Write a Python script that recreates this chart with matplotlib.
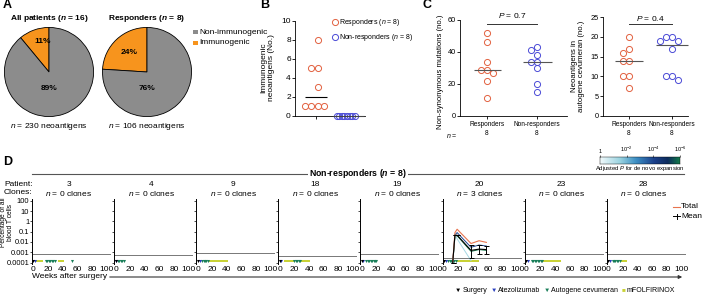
import numpy as np
import matplotlib
matplotlib.use('Agg')
import matplotlib.pyplot as plt
from matplotlib.patches import Rectangle, FancyArrowPatch
from matplotlib.lines import Line2D
from matplotlib.colors import LinearSegmentedColormap

plt.rcParams['font.family'] = ['Liberation Sans', 'DejaVu Sans']
plt.rcParams['mathtext.fontset'] = 'custom'
plt.rcParams['mathtext.rm'] = 'Liberation Sans'
plt.rcParams['mathtext.it'] = 'Liberation Sans:italic'
plt.rcParams['mathtext.bf'] = 'Liberation Sans:bold'
plt.rcParams['mathtext.bfit'] = 'Liberation Sans:italic:bold'
plt.rcParams['axes.linewidth'] = 0.6
plt.rcParams['xtick.major.width'] = 0.6
plt.rcParams['ytick.major.width'] = 0.6
plt.rcParams['xtick.major.size'] = 2
plt.rcParams['ytick.major.size'] = 2

# ---------------- data ----------------
pie_titles = ['All patients ($\\mathbfit{n}$ = 16)', 'Responders ($\\mathbfit{n}$ = 8)']
pie_footers = ['$n$ = 230 neoantigens', '$n$ = 106 neoantigens']
pie_immunogenic_pct = [11, 24]
pie_categories = ['Non-immunogenic', 'Immunogenic']

groups = ['Responders', 'Non-responders']
group_n = [8, 8]
b_resp = [8, 5, 5, 3, 1, 1, 1, 1]
b_nonresp = [0, 0, 0, 0, 0, 0, 0, 0]

c1_resp = [52, 46, 34, 29, 29, 27, 22, 11]
c1_nonresp = [43, 41, 38, 34, 34, 30, 20, 15]
c1_pval = '0.7'
c2_resp = [20, 17, 16, 14, 14, 10, 10, 7]
c2_nonresp = [20, 20, 19, 19, 17, 10, 10, 9]
c2_pval = '0.4'

patients = ['3', '4', '9', '18', '19', '20', '23', '28']
n_clones = [0, 0, 0, 0, 0, 3, 0, 0]
lod = [7e-4, 5.5e-4, 9e-4, 4e-4, 6e-4, 3e-4, 6e-4, 6e-4]
surgery_week = [0, 0, 0, 0, 0, 0, 0, 0]
atezo_week = [2, 1, 3, 2, 2, 3, 3, 3]
vax_weeks = [
    [17, 19, 21, 23, 25, 27, 29, 53],
    [3, 5, 7, 9, 11],
    [6, 8, 10, 12, 14],
    [20, 22, 24, 26, 28],
    [6, 8, 10, 12, 14, 16, 18, 20],
    [6, 8, 10, 12, 14, 16],
    [8, 10, 12, 14, 16, 18, 20, 22],
    [6, 8, 10, 12, 14, 16],
]
chemo_periods = [
    [(4, 13), (33, 42)],
    [],
    [(14, 42)],
    [(6, 20), (29, 42)],
    [],
    [(16, 48)],
    [(22, 48)],
    [(17, 26)],
]

p20_weeks = [12, 15, 18, 37, 48, 58]
p20_total = [1.2e-4, 0.08, 0.17, 0.007, 0.013, 0.009]
p20_clones = [
    [1.0e-4, 0.05, 0.08, 0.003, 0.005, 0.004],
    [1.0e-4, 0.03, 0.04, 0.0012, 0.0018, 0.0015],
    [1.0e-4, 0.06, 0.02, 1.5e-4, np.nan, np.nan],
]
p20_clone_padj = [1e-4, 1e-6, 5e-2]
p20_mean = [1.0e-4, 0.045, 0.045, 0.0015, 0.002, 0.0018]
p20_mean_lo = [1.0e-4, 0.045, 0.045, 3e-4, 6e-4, 6e-4]
p20_mean_hi = [1.0e-4, 0.045, 0.045, 0.005, 0.005, 0.004]

treatments = ['Surgery', 'Atezolizumab', 'Autogene cevumeran', 'mFOLFIRINOX']

# ---------------- style ----------------
W, H = 708, 297
fig = plt.figure(figsize=(W / 100, H / 100), dpi=100)

GRAY = '#8c8c8c'
ORANGE = '#f7941d'
RED = '#e2603f'
BLUE = '#4a4ad6'
TOTAL_C = '#e8744f'
YEL = '#c9d236'
VGREEN = '#1a7f5a'
ABLUE = '#2a3fbf'


def add_ax(x0, y0, x1, y1):
    return fig.add_axes([x0 / W, 1 - y1 / H, (x1 - x0) / W, (y1 - y0) / H])


def ftext(x, y, s, **kw):
    kw.setdefault('ha', 'center')
    kw.setdefault('va', 'center')
    return fig.text(x / W, 1 - y / H, s, **kw)


def fline(x0, y0, x1, y1, **kw):
    fig.add_artist(Line2D([x0 / W, x1 / W], [1 - y0 / H, 1 - y1 / H],
                          transform=fig.transFigure, **kw))


def swarm(vals, ypx, xpx, dmin):
    placed, offs = [], []
    cands = [0.0]
    for i in range(1, 30):
        cands += [-i * dmin, i * dmin]
    for v in vals:
        y = v * ypx
        for c in cands:
            if all((c - px) ** 2 + (y - py) ** 2 >= (0.98 * dmin) ** 2 for px, py in placed):
                break
        placed.append((c, y))
        offs.append(c / xpx)
    return np.array(offs)


# panel letters
ftext(7, 5, 'A', fontsize=9, fontweight='bold')
ftext(265, 5, 'B', fontsize=9, fontweight='bold')
ftext(427, 5, 'C', fontsize=9, fontweight='bold')
ftext(8, 162, 'D', fontsize=9, fontweight='bold')

# ---------------- A: pies ----------------
pie_cx = [49, 147]
label_pos = [[(-0.14, 0.69), (0.0, -0.38)], [(-0.41, 0.44), (0.0, -0.38)]]
for i in range(2):
    ax = add_ax(pie_cx[i] - 45, 27, pie_cx[i] + 45, 117)
    imm = pie_immunogenic_pct[i]
    ax.pie([imm, 100 - imm], colors=[ORANGE, GRAY], startangle=90, counterclock=True,
           radius=1, wedgeprops=dict(edgecolor='black', linewidth=0.6))
    ax.set_xlim(-1.01, 1.01)
    ax.set_ylim(-1.01, 1.01)
    ax.set_aspect('equal')
    ax.axis('off')
    (lx1, ly1), (lx2, ly2) = label_pos[i]
    ax.text(lx1, ly1, f'{imm}%', ha='center', va='center', fontsize=6, fontweight='bold')
    ax.text(lx2, ly2, f'{100 - imm}%', ha='center', va='center', fontsize=6, fontweight='bold')
    ftext(pie_cx[i], 19, pie_titles[i], fontsize=6, fontweight='bold')
    ftext(pie_cx[i], 126, pie_footers[i], fontsize=6)

for j, (lab, col) in enumerate(zip(pie_categories, [GRAY, ORANGE])):
    yy = 32 + j * 11
    fig.add_artist(Rectangle((193 / W, 1 - (yy + 2.3) / H), 4.6 / W, 4.6 / H,
                             transform=fig.transFigure, facecolor=col, edgecolor='none'))
    ftext(199.5, yy, lab, fontsize=6, ha='left')

# ---------------- B ----------------
axB = add_ax(295, 20.7, 365, 115.7)
bx_ppu = 31.0
by_ppu = 95.0 / 10
axB.set_xlim(1 - 21 / bx_ppu, 2 + 18 / bx_ppu)
axB.set_ylim(0, 10)
off_r = swarm(b_resp, by_ppu, bx_ppu, 6.2)
off_n = swarm(b_nonresp, by_ppu, bx_ppu, 2.6)
axB.plot(1.05 + off_r, b_resp, 'o', mfc='none', mec=RED, ms=4.4, mew=0.7, clip_on=False, zorder=3)
axB.plot(2.0 + off_n, b_nonresp, 'o', mfc='none', mec=BLUE, ms=4.4, mew=0.7, clip_on=False, zorder=3)
axB.hlines(np.median(b_resp), 1 - 0.36, 1 + 0.34, color='black', lw=0.8)
axB.hlines(np.median(b_nonresp), 2 - 0.45, 2 + 0.55, color='#444', lw=0.8, clip_on=False, zorder=4)
axB.set_xticks([1])
axB.set_xticklabels([''])
axB.set_yticks(range(0, 11, 2))
axB.tick_params(labelsize=6, pad=1)
for s in ['top', 'right']:
    axB.spines[s].set_visible(False)
ftext(268, 68, 'Immunogenic\nneoantigens (No.)', fontsize=6, rotation=90, linespacing=1.1)
leg_h = [Line2D([], [], ls='none', marker='o', mfc='none', mec=RED, ms=4.4, mew=0.7),
         Line2D([], [], ls='none', marker='o', mfc='none', mec=BLUE, ms=4.4, mew=0.7)]
fig.legend(leg_h, [f'{groups[0]} ($n$ = {group_n[0]})', f'{groups[1]} ($n$ = {group_n[1]})'],
           loc='upper left', bbox_to_anchor=(332 / W, 1 - 17.5 / H), frameon=False,
           fontsize=5, handlelength=0.8, handletextpad=0.15, labelspacing=0.55,
           borderaxespad=0, borderpad=0)


# ---------------- C ----------------
def dot_panel(box, ylim, yticks, resp, nonresp, pval, x_left, x_right, xppu, half_r, half_n,
              ylab, ylab_x, ylab_y, bracket_y, p_y):
    ax = add_ax(*box)
    yppu = (box[3] - box[1]) / (ylim[1] - ylim[0])
    ax.set_xlim(x_left, x_right)
    ax.set_ylim(*ylim)
    o_r = swarm(resp, yppu, xppu, 6.2)
    o_n = swarm(nonresp, yppu, xppu, 6.2)
    ax.plot(1 + o_r, resp, 'o', mfc='none', mec=RED, ms=4.4, mew=0.7, clip_on=False, zorder=3)
    ax.plot(2 + o_n, nonresp, 'o', mfc='none', mec=BLUE, ms=4.4, mew=0.7, clip_on=False, zorder=3)
    ax.hlines(np.median(resp), 1 - half_r, 1 + half_r, color='#555', lw=0.8, zorder=4)
    ax.hlines(np.median(nonresp), 2 - half_n, 2 + half_n, color='#555', lw=0.8, zorder=4, clip_on=False)
    ax.set_yticks(yticks)
    ax.set_xticks([1, 2])
    ax.set_xticklabels([f'{g}\n{n}' for g, n in zip(groups, group_n)], fontsize=4.7,
                       linespacing=1.45)
    ax.tick_params(axis='y', labelsize=5.3, pad=1)
    ax.tick_params(axis='x', pad=1.5)
    for s in ['top', 'right']:
        ax.spines[s].set_visible(False)
    ax.plot([1, 2], [bracket_y, bracket_y], color='#333', lw=0.7, clip_on=False)
    ax.text(1.5, p_y, f'$P$ = {pval}', ha='center', va='center', fontsize=6, clip_on=False)
    ftext(ylab_x, ylab_y, ylab, fontsize=5.6, rotation=90, linespacing=1.1)
    return ax


dot_panel((460, 20, 567, 116), (0, 60), [0, 20, 40, 60], c1_resp, c1_nonresp, c1_pval,
          1 - 27 / 50, 2 + 30 / 50, 50.0, 0.27, 0.29,
          'Non-synonymous mutations (no.)', 441, 72, 57.5, 62.5)
ftext(452, 136.5, '$n$ =', fontsize=5)
dot_panel((603, 17.3, 688, 115.7), (0, 25), [0, 5, 10, 15, 20, 25], c2_resp, c2_nonresp, c2_pval,
          1 - 26 / 43, 2 + 16 / 43, 43.0, 0.33, 0.37,
          'Neoantigens in\nautogene cevumeran (no.)', 578, 66, 23.3, 24.8)

# ---------------- D ----------------
cmap = LinearSegmentedColormap.from_list(
    'padj', [(0.0, '#f2fafc'), (0.25, '#9ad3e0'), (0.45, '#3d8fc4'),
             (0.68, '#1b3f8a'), (0.85, '#0d2c5c'), (1.0, '#137a4a')])


def padj_color(p):
    return cmap(min(max(-np.log10(p) / 6.0, 0), 1))


# colorbar
cax = add_ax(600, 156.5, 680, 164)
cax.imshow(np.linspace(0, 1, 256)[None, :], aspect='auto', cmap=cmap, extent=[0, 6, 0, 1])
cax.set_yticks([])
cax.set_xticks([0, 2, 4, 6])
cax.set_xticklabels(['1', '10$^{-2}$', '10$^{-4}$', '10$^{-6}$'], fontsize=4)
cax.xaxis.set_ticks_position('top')
cax.tick_params(axis='x', length=1.5, pad=0.5, width=0.4)
for s in cax.spines.values():
    s.set_linewidth(0.3)
ftext(640, 168.5, 'Adjusted $P$ for de novo expansion', fontsize=4.2)

# header
fline(32, 174, 684, 174, color='#555', lw=0.8)
ftext(358, 174, 'Non-responders ($\\mathbfit{n}$ = 8)', fontsize=6.3, fontweight='bold',
      bbox=dict(facecolor='white', edgecolor='none', pad=1.0))
ftext(4, 184, 'Patient:', fontsize=6, ha='left')
ftext(4, 193, 'Clones:', fontsize=6, ha='left')
ftext(7, 222.5, 'Percentage of all\nblood T cells', fontsize=4.8, rotation=90, linespacing=1.0)

ytick_vals = [1e-4, 1e-3, 1e-2, 1e-1, 1, 10, 100]
ytick_labs = ['0.0001', '0.001', '0.01', '0.1', '1', '10', '100']
for i, pat in enumerate(patients):
    x0 = 32 + i * 82.1
    ax = add_ax(x0, 198.9, x0 + 79, 264.1)
    ax.set_yscale('log')
    ax.set_xlim(-2, 106)
    ax.set_ylim(7e-5, 150)
    ax.set_yticks(ytick_vals)
    ax.minorticks_off()
    if i == 0:
        ax.set_yticklabels(ytick_labs)
    else:
        ax.set_yticklabels([])
    ax.tick_params(axis='y', labelsize=5.4, pad=0.8, length=1.2, width=0.5)
    ax.set_xticks(range(0, 101, 20))
    ax.tick_params(axis='x', labelsize=6, length=0, pad=1.2)
    for s in ['top', 'right', 'bottom']:
        ax.spines[s].set_visible(False)
    ax.spines['left'].set_linewidth(0.7)
    ax.axhline(lod[i], color='#777', lw=0.7, zorder=1)
    tr = ax.get_xaxis_transform()
    for (s0, s1) in chemo_periods[i]:
        ax.add_patch(Rectangle((s0, 0.025), s1 - s0, 0.04, transform=tr, facecolor=YEL,
                               edgecolor='none', zorder=2))
    ax.plot(vax_weeks[i], [0.05] * len(vax_weeks[i]), 'v', color=VGREEN, ms=2.2, mew=0,
            transform=tr, clip_on=False, zorder=3)
    ax.plot([atezo_week[i]], [0.05], 'v', color=ABLUE, ms=2.2, mew=0, transform=tr,
            clip_on=False, zorder=3)
    ax.plot([surgery_week[i]], [0.05], 'v', color='black', ms=2.2, mew=0, transform=tr,
            clip_on=False, zorder=3)
    cx = x0 + 37
    ftext(cx, 184, pat, fontsize=6)
    ftext(cx, 193, f'$n$ = {n_clones[i]} clones', fontsize=6)
    if n_clones[i] > 0:
        ax.plot(p20_weeks, p20_total, color=TOTAL_C, lw=0.8, zorder=5)
        for cl, p in zip(p20_clones, p20_clone_padj):
            ax.plot(p20_weeks, cl, color=padj_color(p), lw=0.7, zorder=4)
        mean = np.array(p20_mean)
        lo = mean - np.array(p20_mean_lo)
        hi = np.array(p20_mean_hi) - mean
        ax.errorbar(p20_weeks, mean, yerr=[lo, hi], color='black', lw=0.8, elinewidth=0.7,
                    capsize=1.8, capthick=0.7, zorder=6)

# Total / Mean legend
fline(673, 207, 680, 207, color=TOTAL_C, lw=0.8)
ftext(681, 207, 'Total', fontsize=6, ha='left')
fline(673, 216, 680, 216, color='black', lw=0.7)
fline(676.5, 213.5, 676.5, 218.5, color='black', lw=0.7)
ftext(681, 216, 'Mean', fontsize=6, ha='left')

# weeks axis arrow
ftext(32, 277, 'Weeks after surgery', fontsize=6, ha='left')
fig.add_artist(FancyArrowPatch((107 / W, 1 - 277 / H), (685 / W, 1 - 277 / H),
                               transform=fig.transFigure, arrowstyle='-|>',
                               mutation_scale=5, lw=0.8, color='#333'))

# bottom legend (laid out by measured text widths)
renderer = fig.canvas.get_renderer()
leg_cols = ['black', ABLUE, VGREEN, YEL]
leg_syms = ['\u25BC', '\u25BC', '\u25BC', '\u25A0']
xx = 455.0
for sym, col, lab in zip(leg_syms, leg_cols, treatments):
    t1 = ftext(xx, 290, sym, fontsize=4.6, color=col, ha='left')
    w1 = t1.get_window_extent(renderer).width
    xx += w1 + 1.0
    t2 = ftext(xx, 290, lab, fontsize=5.0, ha='left')
    w2 = t2.get_window_extent(renderer).width
    xx += w2 + 3.5

fig.savefig('out.png', dpi=100)
